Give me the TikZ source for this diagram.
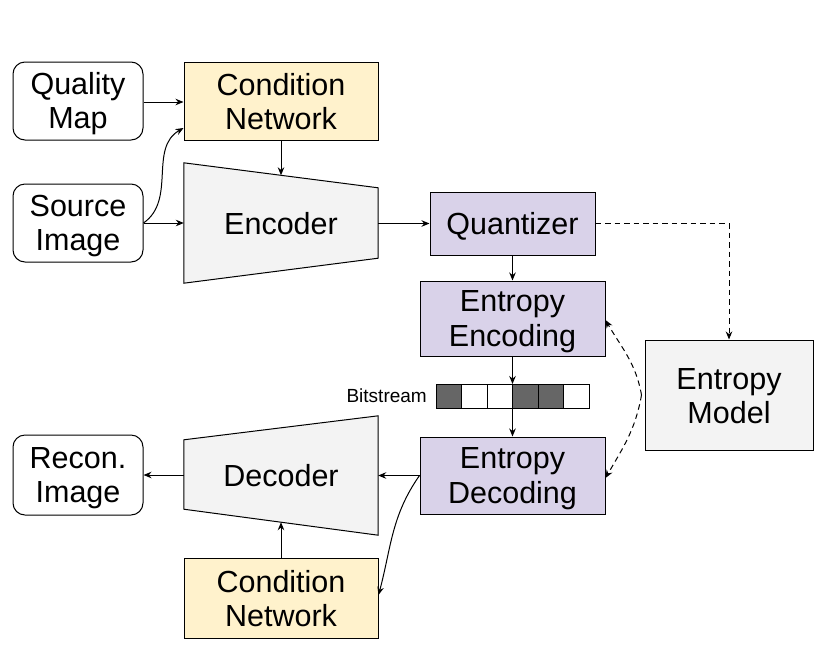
\documentclass[tikz,border=0pt]{standalone}
\usepackage{fontspec}
\setmainfont{Liberation Sans}
\usetikzlibrary{arrows.meta}
\definecolor{condy}{HTML}{FFF2CC}
\definecolor{purp}{HTML}{D9D2E9}
\definecolor{lgray}{HTML}{F3F3F3}
\definecolor{dgray}{HTML}{666666}
\newcommand{\mytopstrut}{\rule{0pt}{27.5pt}}
\newcommand{\mybotstrut}{\rule[-5pt]{0pt}{5pt}}
\newcommand{\twol}[2]{\mytopstrut#1\\#2\mybotstrut}
\newcommand{\onel}[1]{\mytopstrut#1\mybotstrut}
\tikzset{
  txt/.style={align=center, inner sep=0pt, font=\fontsize{30.5}{34.5}\selectfont},
  box/.style={txt, draw=black, line width=1pt},
  iobox/.style={box, rounded corners=12pt, fill=white},
  condbox/.style={box, fill=condy},
  purpbox/.style={box, fill=purp},
  graybox/.style={box, fill=lgray},
  cell/.style={draw=black, line width=1pt, minimum width=25.5pt, minimum height=24pt, inner sep=0pt, outer sep=0pt},
  arr/.style={line width=1pt, -{Stealth[length=8pt,width=6.5pt]}},
  darr/.style={arr, dashed, dash pattern=on 5.5pt off 4pt},
}
\begin{document}
\begin{tikzpicture}[x=1pt, y=-1pt]
\useasboundingbox (0,0) rectangle (834,667);
% boxes
\node[iobox, minimum width=130pt, minimum height=78pt] (qm) at (78,101) {\twol{Quality}{Map}};
\node[condbox, minimum width=194pt, minimum height=78pt] (cn1) at (281,101) {\twol{Condition}{Network}};
\node[iobox, minimum width=130pt, minimum height=78pt] (src) at (78,223) {\twol{Source}{Image}};
\node[minimum width=194pt, minimum height=120pt, inner sep=0pt] (enc) at (281,223) {};
\node[purpbox, minimum width=165pt, minimum height=63pt] (quant) at (512.5,223.5) {\onel{Quantizer}};
\node[purpbox, minimum width=185pt, minimum height=75pt] (ee) at (512.5,318.5) {\twol{Entropy}{Encoding}};
\node[purpbox, minimum width=185pt, minimum height=77pt] (ed) at (512.5,475.5) {\twol{Entropy}{Decoding}};
\node[graybox, minimum width=168pt, minimum height=110pt] (em) at (729,395) {\twol{Entropy}{Model}};
\node[iobox, minimum width=130pt, minimum height=80pt] (rec) at (78,475) {\twol{Recon.}{Image}};
\node[minimum width=194pt, minimum height=119pt, inner sep=0pt] (dec) at (281,475.5) {};
\node[condbox, minimum width=194pt, minimum height=80pt] (cn2) at (281,598) {\twol{Condition}{Network}};
% trapezoids
\draw[line width=1pt, fill=lgray] (enc.north west) -- ([yshift=-25pt]enc.north east) -- ([yshift=25pt]enc.south east) -- (enc.south west) -- cycle;
\node[txt] (enct) at (enc.center) {\onel{Encoder}};
\draw[line width=1pt, fill=lgray] ([yshift=-24pt]dec.north west) -- (dec.north east) -- (dec.south east) -- ([yshift=26pt]dec.south west) -- cycle;
\node[txt] (dect) at (dec.center) {\onel{Decoder}};
\coordinate (enctop) at ([yshift=-12.5pt]enc.north);
\coordinate (decbot) at ([yshift=13pt]dec.south);
% bitstream
\node[cell, fill=dgray] (b1) at (448.75,396) {};
\node[cell, fill=white, anchor=west] (b2) at (b1.east) {};
\node[cell, fill=white, anchor=west] (b3) at (b2.east) {};
\node[cell, fill=dgray, anchor=west] (b4) at (b3.east) {};
\node[cell, fill=dgray, anchor=west] (b5) at (b4.east) {};
\node[cell, fill=white, anchor=west] (b6) at (b5.east) {};
\coordinate (bstop) at (ee.south |- b3.north);
\coordinate (bsbot) at (ee.south |- b3.south);
\node[anchor=east, inner sep=0pt, font=\fontsize{19}{21}\selectfont] (bsl) at ([xshift=-9pt]b1.west) {Bitstream};
% connectors
\draw[arr] (qm.east |- 0,102) -- (cn1.west |- 0,102);
\draw[arr] (src.east) to[out=35, in=210] ([yshift=-27pt]cn1.west);
\draw[arr] (src.east) -- (enc.west);
\draw[arr] (cn1.south) -- (enctop);
\draw[arr] (enc.east |- quant.west) -- (quant.west);
\draw[arr] (quant.south) -- (ee.north);
\draw[darr] (quant.east) -| (em.north);
\draw[arr] (ee.south) -- (bstop);
\draw[arr] (bsbot) -- (ed.north);
\draw[darr] ([xshift=-3pt]em.west) to[out=100, in=-60] ([yshift=-1.5pt]ee.east);
\draw[darr] ([xshift=-3pt]em.west) to[out=-100, in=60] ([yshift=-2.5pt]ed.east);
\draw[arr] (ed.west) -- (dec.east |- ed.west);
\draw[arr] (ed.west) to[out=235, in=75] ([yshift=3pt]cn2.east);
\draw[arr] (dec.west |- rec.east) -- (rec.east);
\draw[arr] (cn2.north) -- (decbot);
\end{tikzpicture}
\end{document}
